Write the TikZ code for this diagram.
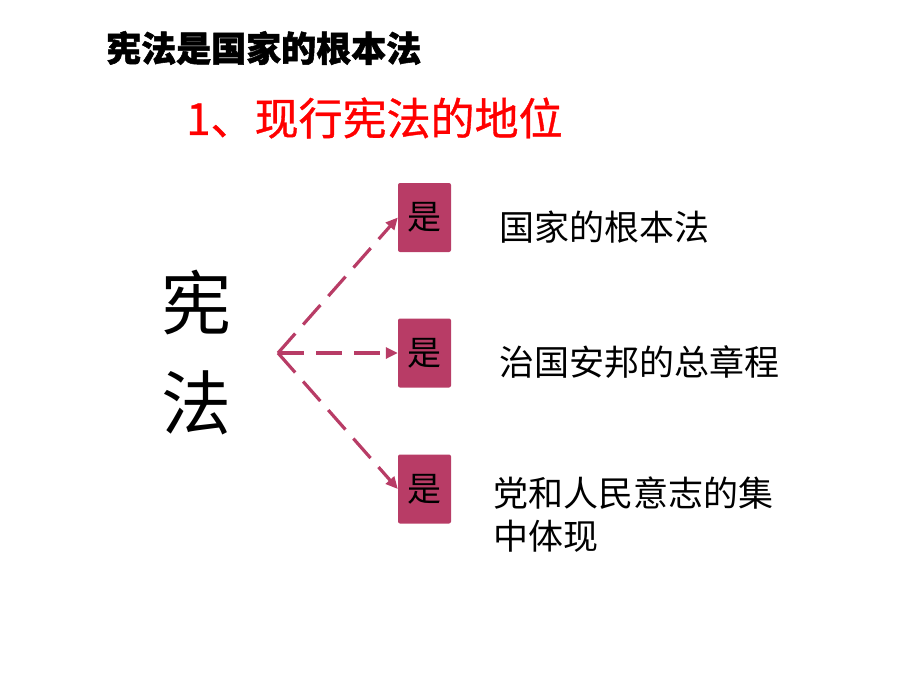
\documentclass[tikz,border=0pt]{standalone}
\usepackage{fontspec}
\setmainfont{Noto Sans CJK SC}[BoldFeatures={FakeBold=1.5}]
\newfontfamily\redcjk{Noto Sans CJK SC}[FakeBold=0.8]
\usepackage{tikz}
\usetikzlibrary{arrows.meta}
\definecolor{boxred}{HTML}{B83C66}

\begin{document}
\begin{tikzpicture}[x=1pt,y=-1pt,
                shi/.style={rectangle,fill=boxred,rounded corners=2pt,minimum width=53pt,minimum height=69pt,inner sep=0pt,font=\fontsize{34}{34}\selectfont},
                desc/.style={anchor=west,inner sep=0pt,align=left,font=\fontsize{35}{43}\selectfont},
                link/.style={boxred,line width=3.2pt,dash pattern=on 26pt off 12pt,-{Triangle[length=12pt,width=11pt]}}
                ]
            \useasboundingbox (0,0) rectangle (900,675);

            \node[anchor=west,inner sep=0pt,font=\fontsize{35}{35}\selectfont\bfseries] (title) at (106,48) {宪法是国家的根本法};
            \node[anchor=west,inner sep=0pt,red,font=\redcjk\fontsize{44}{44}\selectfont] (sub) at (186,118) {1、现行宪法的地位};

            \node[inner sep=0pt,align=center,font=\fontsize{70}{100}\selectfont] (xianfa) at (196,353) {宪\\法};
            \coordinate (fork) at (278,353);

            \node[shi] (is1) at (424.5,217.5) {是};
            \node[shi] (is2) at (424.5,353) {是};
            \node[shi] (is3) at (424.5,489) {是};

            \node[desc] (d1) at (499,227) {国家的根本法};
            \node[desc] (d2) at (499,362) {治国安邦的总章程};
            \node[desc] (d3) at (493,515) {党和人民意志的集\\中体现};

            \draw[link] (fork) to (is1.west);
            \draw[link] (fork) to (is2.west);
            \draw[link] (fork) to (is3.west);

            \end{tikzpicture}
\end{document}
